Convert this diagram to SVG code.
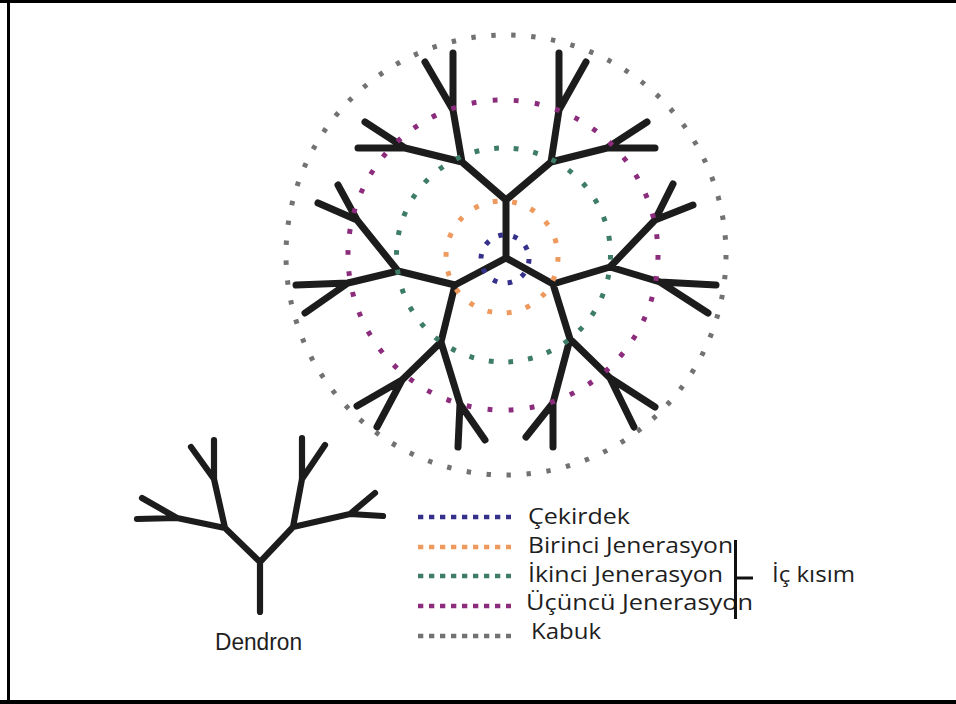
<svg xmlns="http://www.w3.org/2000/svg" width="956" height="704" viewBox="0 0 956 704">
  <style>
    .branch { fill: none; stroke: #1c1c1c; stroke-width: 7; stroke-linecap: round; stroke-linejoin: round; }
    .dendron { fill: none; stroke: #1c1c1c; stroke-width: 6.2; stroke-linecap: round; stroke-linejoin: round; }
    .shell { fill: none; stroke-width: 5; }
    .key { stroke-width: 4.6; stroke-dasharray: 5.3 5.7; }
    .label { font-family: "Open Sans", "Lato", "DejaVu Sans", sans-serif; font-size: 22.5px; fill: #1e1e1e; }
    .core { stroke: #35308a; }
    .gen1 { stroke: #ee9a5e; }
    .gen2 { stroke: #3d7c66; }
    .gen3 { stroke: #8c2c7c; }
    .outer { stroke: #727272; }
  </style>

  <rect width="956" height="704" fill="#ffffff"/>

  <!-- frame: left, top and bottom rules -->
  <g id="frame" fill="#000000">
    <rect x="0" y="0" width="956" height="3"/>
    <rect x="7" y="0" width="3" height="704"/>
    <rect x="0" y="700" width="956" height="4"/>
  </g>

  <!-- dendrimer: three dendrons grown from the core -->
  <g id="dendrimer">
    <g id="connectors">
      <path class="branch" d="
        M506,258 L506,200 M506,258 L455,285 M506,258 L553,284
        M506,200 L462,162 L453,110 L425,62 M453,110 L453,53
        M462,162 L405,148 L358,148 M405,148 L365,122
        M506,200 L551,162 L559,110 L586,62 M559,110 L559,53
        M551,162 L607,148 L655,148 M607,148 L647,122
        M455,285 L398,271 L357,220 L338,185 M357,220 L318,203
        M398,271 L348,283 L296,285 M348,283 L305,313
        M455,285 L441,342 L402,380 L357,406 M402,380 L377,427
        M441,342 L460,404 L458,447 M460,404 L485,440
        M553,284 L610,267 L655,220 L673,184 M655,220 L693,205
        M610,267 L660,282 L716,285 M660,282 L708,313
        M553,284 L570,339 L610,378 L655,407 M610,378 L634,427
        M570,339 L553,403 L553,447 M553,403 L526,437"/>
    </g>
    <!-- dotted generation shells -->
    <g id="shells">
      <circle id="shell-core" class="shell core" cx="505" cy="259" r="24" stroke-dasharray="4.6 10.48"/>
      <circle id="shell-gen1" class="shell gen1" cx="502" cy="257" r="56" stroke-dasharray="4.8 14.75"/>
      <circle id="shell-gen2" class="shell gen2" cx="503.5" cy="255" r="107" stroke-dasharray="4.8 14.97"/>
      <circle id="shell-gen3" class="shell gen3" cx="503" cy="255" r="155" stroke-dasharray="4.8 16.37"/>
      <circle id="shell-outer" class="shell outer" cx="506" cy="255" r="220" stroke-width="4.4" stroke-dasharray="4.4 15.63"/>
    </g>
  </g>

  <!-- single dendron -->
  <g id="dendron">
    <path class="dendron" d="
      M260,562 L260,612 M260,562 L225,528 M260,562 L293,527
      M225,528 L214,479 L191,447 M214,479 L214,440
      M225,528 L177,518 L137,519 M177,518 L142,498
      M293,527 L302,479 L302,438 M302,479 L325,445
      M293,527 L350,514 L383,516 M350,514 L375,493"/>
    <text x="215" y="650" font-family="'Liberation Sans', Arial, sans-serif" font-size="23" fill="#1e1e1e" textLength="87" lengthAdjust="spacingAndGlyphs">Dendron</text>
  </g>

  <!-- legend -->
  <g id="legend">
    <g id="key-core">
      <line class="key core" x1="418" y1="517" x2="511" y2="517"/>
      <text class="label" x="528" y="524" textLength="102" lengthAdjust="spacingAndGlyphs">Çekirdek</text>
    </g>
    <g id="key-gen1">
      <line class="key gen1" x1="418" y1="547" x2="511" y2="547"/>
      <text class="label" x="528" y="553" textLength="205" lengthAdjust="spacingAndGlyphs">Birinci Jenerasyon</text>
    </g>
    <g id="key-gen2">
      <line class="key gen2" x1="418" y1="576" x2="511" y2="576"/>
      <text class="label" x="528" y="582" textLength="195" lengthAdjust="spacingAndGlyphs">İkinci Jenerasyon</text>
    </g>
    <g id="key-gen3">
      <line class="key gen3" x1="418" y1="606" x2="511" y2="606"/>
      <text class="label" x="526" y="610" textLength="227" lengthAdjust="spacingAndGlyphs">Üçüncü Jenerasyon</text>
    </g>
    <g id="key-outer">
      <line class="key outer" x1="418" y1="636" x2="511" y2="636"/>
      <text class="label" x="531" y="639" textLength="70" lengthAdjust="spacingAndGlyphs">Kabuk</text>
    </g>
    <!-- bracket grouping the interior generations -->
    <g id="interior" stroke="#111111" stroke-width="3" fill="none">
      <line x1="735.5" y1="540" x2="735.5" y2="619"/>
      <line x1="735.5" y1="578" x2="753" y2="578"/>
    </g>
    <text class="label" x="772" y="582" textLength="83" lengthAdjust="spacingAndGlyphs">İç kısım</text>
  </g>
</svg>
